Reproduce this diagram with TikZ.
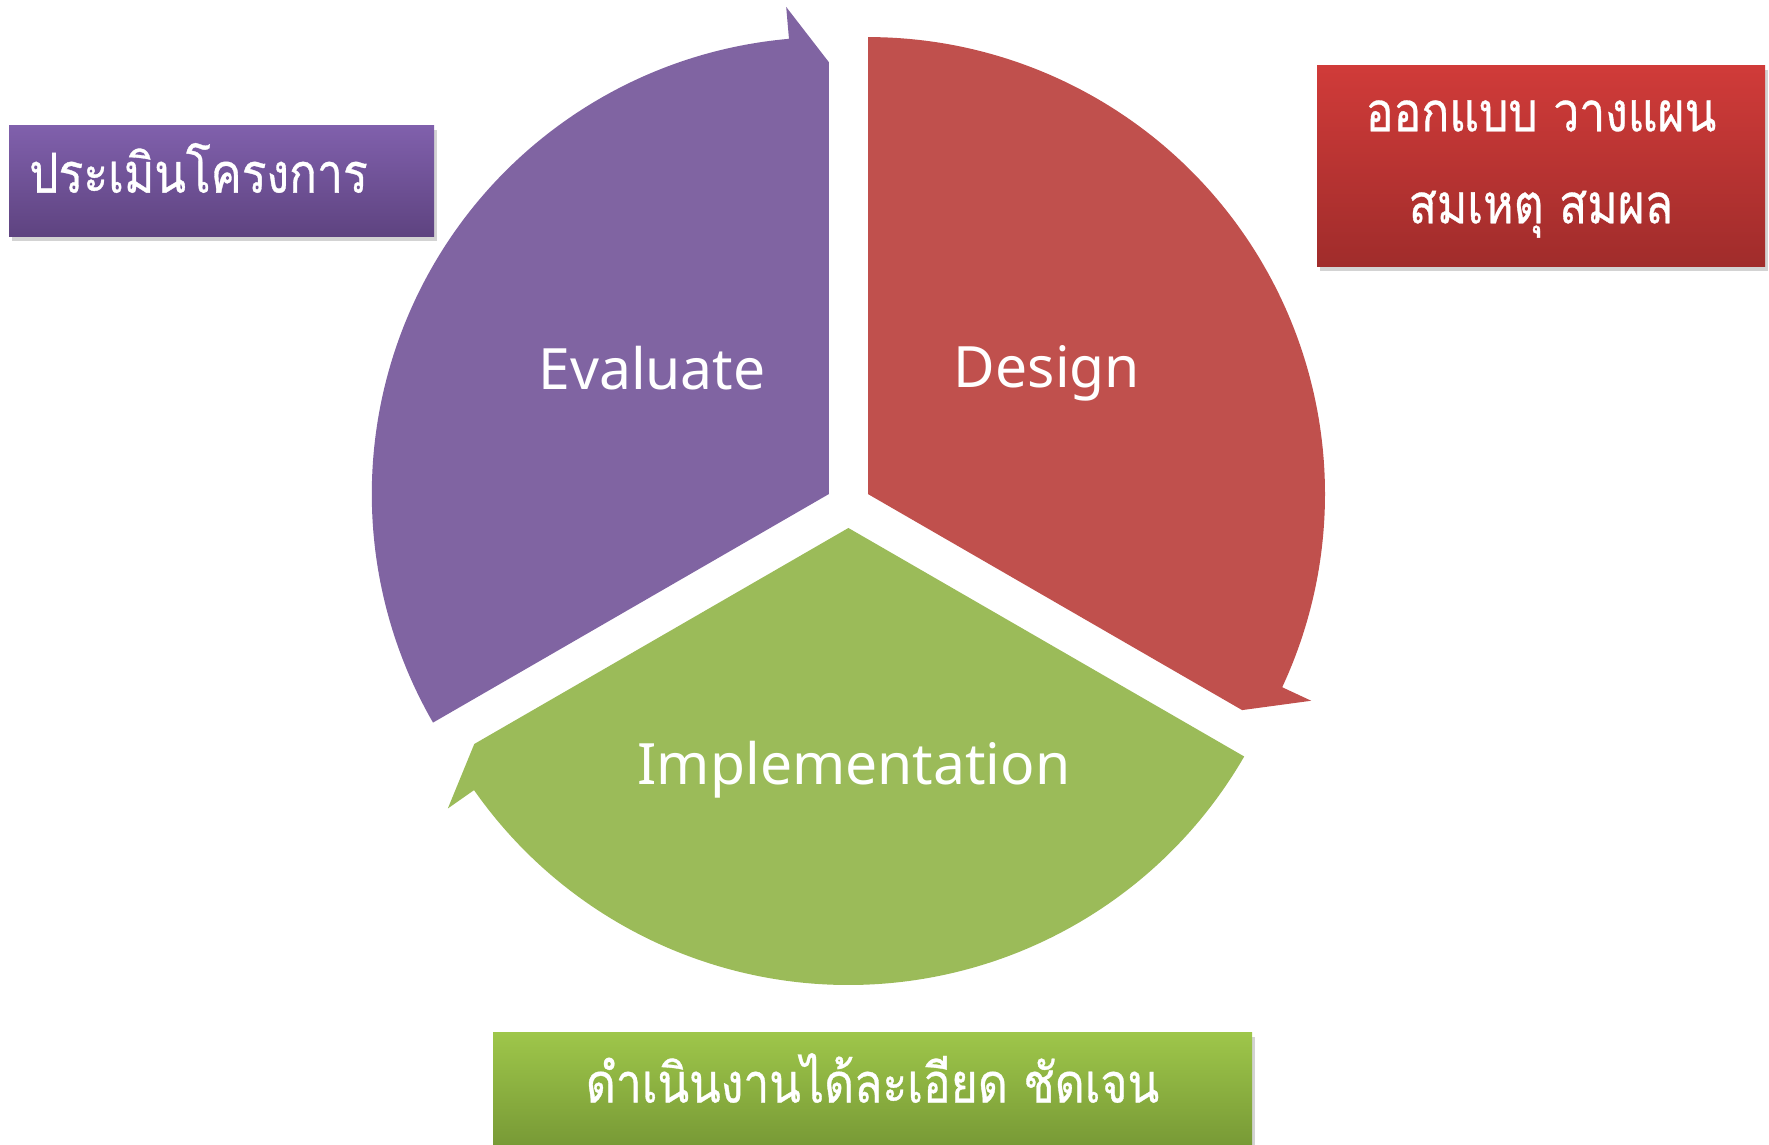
\documentclass[tikz,border=0pt]{standalone}
\usepackage{fontspec}
\setmainfont{Noto Sans}
\newfontfamily\thaifont[Script=Thai, FakeStretch=0.84, FakeBold=0.6]{Loma}
\usetikzlibrary{shadows}
\definecolor{cpurple}{HTML}{8064A2}
\definecolor{cred}{HTML}{C0504D}
\definecolor{cgreen}{HTML}{9BBB59}
\definecolor{bpurpleT}{HTML}{8060AC}
\definecolor{bpurpleB}{HTML}{5E4380}
\definecolor{bredT}{HTML}{D03B39}
\definecolor{bredB}{HTML}{A02C2B}
\definecolor{bgreenT}{HTML}{9EC64A}
\definecolor{bgreenB}{HTML}{789A36}
\tikzset{
  seglabel/.style={text=white, font=\fontsize{57}{64}\selectfont, inner sep=0pt},
  thaitext/.style={text=white, font=\thaifont\fontsize{55}{92}\selectfont, inner sep=0pt, align=center},
  thaibox/.style={thaitext,
    shading=axis, shading angle=0,
    drop shadow={opacity=0.35, shadow xshift=3pt, shadow yshift=-4pt}},
}
\begin{document}
\begin{tikzpicture}[x=1pt,y=1pt]
\useasboundingbox (0,0) rectangle (1769,1145);
% Evaluate segment (purple)
\begin{scope}[shift={(828.8,650.9)}]
  \fill[cpurple] (0,0) -- (90:432) -- (95:489) -- (95:457)
    arc[start angle=95, end angle=210, radius=457] -- cycle;
\end{scope}
% Design segment (red)
\begin{scope}[shift={(868,650.9)}]
  \fill[cred] (0,0) -- (90:457)
    arc[start angle=90, end angle=-25, radius=457] -- (-25:489) -- (-30:432) -- cycle;
\end{scope}
% Implementation segment (green)
\begin{scope}[shift={(848.4,617)}]
  \fill[cgreen] (0,0) -- (-30:457)
    arc[start angle=-30, end angle=-145, radius=457] -- (-145:489) -- (-150:432) -- cycle;
\end{scope}
% segment labels
\node[seglabel] (eval) at (652,777) {Evaluate};
\node[seglabel] (design) at (1047,772) {Design};
\node[seglabel] (impl) at (854,375) {Implementation};
% boxes
\node[thaibox, top color=bpurpleT, bottom color=bpurpleB,
  minimum width=425, minimum height=111] (bpurple) at (221.5,963.5) {};
\node[thaitext, anchor=west] (tpurple) at (29,977) {ประเมินโครงการ};
\node[thaibox, top color=bredT, bottom color=bredB,
  minimum width=448, minimum height=201] (bred) at (1541,978.5) {};
\node[thaitext] (tred) at (1541,976) {ออกแบบ วางแผน\\สมเหตุ สมผล};
\node[thaibox, top color=bgreenT, bottom color=bgreenB,
  minimum width=759, minimum height=112]
  (bgreen) at (872.5,56) {};
\node[thaitext] (tgreen) at (872.5,67) {ดำเนินงานได้ละเอียด ชัดเจน};
\end{tikzpicture}
\end{document}
